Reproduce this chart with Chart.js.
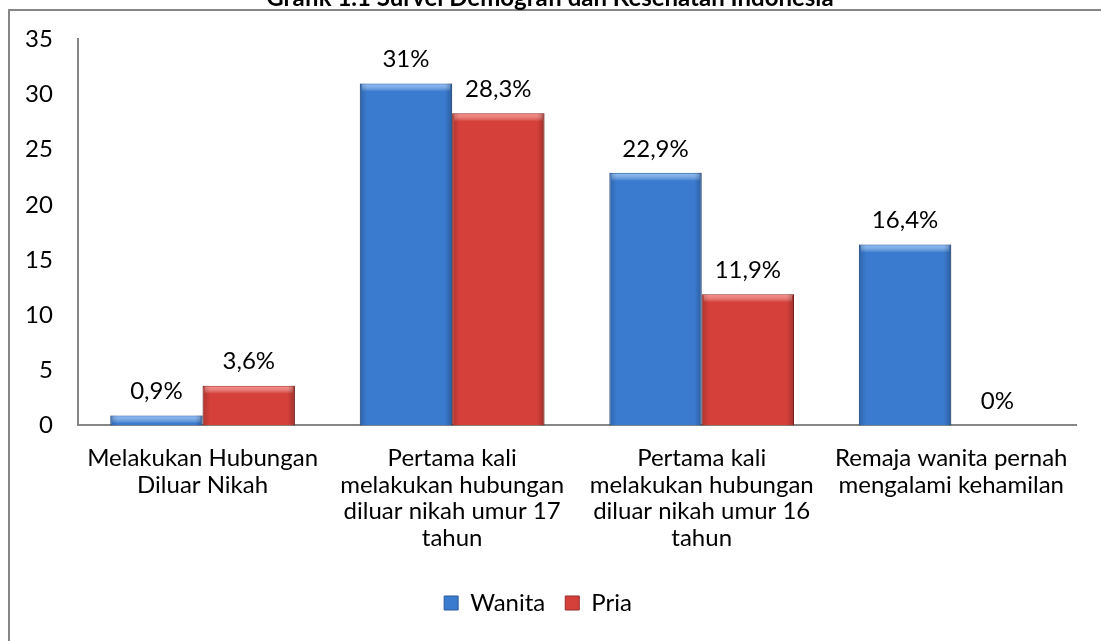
<!DOCTYPE html>
<html>
<head>
<meta charset="utf-8">
<script src="https://cdn.jsdelivr.net/npm/chart.js@4"></script>
<style>
  body { margin: 0; background: #fff; }
</style>
</head>
<body>
<canvas id="chart" width="1101" height="641"></canvas>
<script>
Chart.defaults.font.family = 'Lato, "Open Sans", sans-serif';
Chart.defaults.font.size = 24;
Chart.defaults.color = '#000';

//data
const categories = [
    ['Melakukan Hubungan', 'Diluar Nikah'],
    ['Pertama kali', 'melakukan hubungan', 'diluar nikah umur 17', 'tahun'],
    ['Pertama kali', 'melakukan hubungan', 'diluar nikah umur 16', 'tahun'],
    ['Remaja wanita pernah', 'mengalami kehamilan']
];
const wanita = [0.9, 31, 22.9, 16.4];
const pria = [3.6, 28.3, 11.9, 0];
const yTicks = [0, 5, 10, 15, 20, 25, 30, 35];
const title = 'Grafik 1.1 Survei Demografi dan Kesehatan Indonesia';

const fmt = v => String(v).replace('.', ',') + '%';

//frame + title (top of the picture is cut off)
const framePlugin = {
    id: 'frame',
    beforeDraw(chart) {
        const ctx = chart.ctx;
        ctx.save();
        ctx.strokeStyle = '#868686';
        ctx.lineWidth = 2;
        ctx.beginPath();
        ctx.moveTo(9, 700);
        ctx.lineTo(9, 10);
        ctx.lineTo(1110, 10);
        ctx.stroke();
        ctx.font = 'bold 24px Lato, sans-serif';
        ctx.fillStyle = '#000';
        ctx.textAlign = 'center';
        ctx.textBaseline = 'alphabetic';
        ctx.fillText(title, 550, 6);
        ctx.restore();
    }
};

//bevel look + value labels
const barPlugin = {
    id: 'barLook',
    afterDatasetsDraw(chart) {
        const ctx = chart.ctx;
        chart.data.datasets.forEach((ds, i) => {
            const meta = chart.getDatasetMeta(i);
            meta.data.forEach((bar, j) => {
                const p = bar.getProps(['x', 'y', 'base', 'width'], true);
                const left = p.x - p.width / 2;
                const h = p.base - p.y;
                ctx.save();
                if (h > 2) {
                    const g = ctx.createLinearGradient(0, p.y, 0, p.y + Math.min(8, h));
                    g.addColorStop(0, ds.hi);
                    g.addColorStop(1, 'rgba(255,255,255,0)');
                    ctx.fillStyle = g;
                    ctx.fillRect(left + 2, p.y + 1, p.width - 4, Math.min(8, h - 1));
                    const gs = ctx.createLinearGradient(left, 0, left + p.width, 0);
                    gs.addColorStop(0, 'rgba(0,0,0,0.18)');
                    gs.addColorStop(0.08, 'rgba(0,0,0,0)');
                    gs.addColorStop(0.92, 'rgba(0,0,0,0)');
                    gs.addColorStop(1, 'rgba(0,0,0,0.25)');
                    ctx.fillStyle = gs;
                    ctx.fillRect(left, p.y, p.width, h);
                }
                ctx.fillStyle = '#000';
                ctx.font = '24px Lato, sans-serif';
                ctx.textAlign = 'center';
                ctx.textBaseline = 'middle';
                ctx.fillText(fmt(ds.data[j]), p.x, p.y - 24);
                ctx.restore();
            });
        });
    }
};

const data = {
    labels: categories,
    datasets: [{
        label: 'Wanita',
        data: wanita,
        backgroundColor: '#3a7bd0',
        borderColor: '#2a5a9c',
        borderWidth: 1,
        hi: 'rgba(140,190,250,0.9)'
    }, {
        label: 'Pria',
        data: pria,
        backgroundColor: '#d5403a',
        borderColor: '#962b27',
        borderWidth: 1,
        hi: 'rgba(255,140,135,0.9)'
    }]
};

const options = {
    responsive: false,
    animation: false,
    layout: {
        padding: { left: 0, right: 25, top: 32, bottom: 16 }
    },
    barPercentage: 1,
    categoryPercentage: 0.74,
    scales: {
        x: {
            grid: { display: false, drawTicks: false },
            border: { color: '#868686', width: 2 },
            ticks: { maxRotation: 0, padding: 20, font: { size: 24, lineHeight: 1.1 } }
        },
        y: {
            min: 0,
            max: 35,
            afterBuildTicks: axis => { axis.ticks = yTicks.map(v => ({ value: v })); },
            grid: { display: false, drawTicks: false },
            border: { color: '#868686', width: 2 },
            ticks: { padding: 25, font: { size: 24 } }
        }
    },
    plugins: {
        legend: {
            position: 'bottom',
            labels: { boxWidth: 14, boxHeight: 14, padding: 20, font: { size: 24 } }
        },
        title: { display: false },
        tooltip: { enabled: false }
    }
};

const config = {
    type: 'bar',
    data: data,
    options,
    plugins: [framePlugin, barPlugin]
};

const bar = new Chart(document.getElementById('chart'), config);
</script>
</body>
</html>
